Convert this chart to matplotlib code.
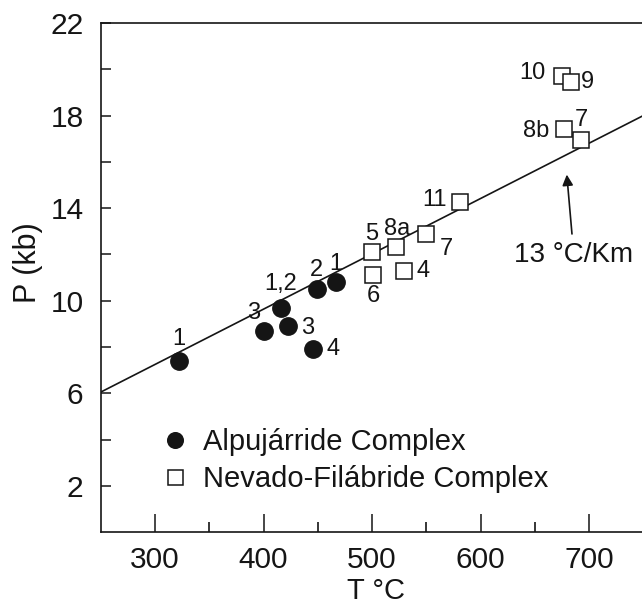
import matplotlib
matplotlib.use("Agg")
import matplotlib.pyplot as plt
from matplotlib.ticker import FixedLocator, NullFormatter

plt.rcParams["font.family"] = ["Liberation Sans", "DejaVu Sans"]
INK = "#151515"

# Alpujarride Complex (filled circles)
alp_T = [322, 400, 416, 423, 446, 449, 467]
alp_P = [7.4, 8.7, 9.7, 8.9, 7.9, 10.5, 10.8]
alp_lab = ["1", "3", "1,2", "3", "4", "2", "1"]
alp_off = [(0, 16), (-7, 13), (0, 17), (14, -1), (14, 0), (0, 14), (0, 13)]

# Nevado-Filabride Complex (open squares)
nf_T = [500, 501, 522, 529.5, 549.5, 581, 675.5, 683.5, 677, 693]
nf_P = [12.1, 11.1, 12.3, 11.3, 12.9, 14.25, 19.7, 19.45, 17.4, 16.95]
nf_lab = ["5", "6", "8a", "4", "7", "11", "10", "9", "8b", "7"]
nf_off = [(0, 13), (0, -15), (1, 13), (14, 0), (15, -11), (-18, 2),
          (-22, 2), (12, 0), (-20, -1), (0, 14)]

# 13 degC/km gradient line
grad_T = [250, 750]
grad_P = [6.05, 18.0]

fig = plt.figure(figsize=(6.42, 6.06), dpi=100)
ax = fig.add_axes([0.157, 0.122, 0.845, 0.840])

ax.plot(grad_T, grad_P, color=INK, lw=1.2, zorder=1)
ax.plot(alp_T, alp_P, "o", ms=12.5, color=INK, mec=INK, zorder=3,
        label="Alpujárride Complex")
ax.plot(nf_T, nf_P, "s", ms=12.0, mfc="white", mec=INK, mew=1.1, zorder=3,
        label="Nevado-Filábride Complex")

for t, p, s, off in zip(alp_T + nf_T, alp_P + nf_P, alp_lab + nf_lab, alp_off + nf_off):
    ax.annotate(s, (t, p), xytext=off, textcoords="offset points",
                ha="center", va="center", fontsize=17, color=INK, zorder=4)

ax.annotate("13 °C/Km", xy=(679.5, 15.45), xytext=(686, 11.66),
            ha="center", va="baseline", fontsize=20, color=INK,
            arrowprops=dict(arrowstyle="-|>", color=INK, lw=1.2,
                            mutation_scale=16, shrinkA=4, shrinkB=0))

ax.set_xlim(250, 750)
ax.set_ylim(0, 22)

ax.xaxis.set_major_locator(FixedLocator([300, 400, 500, 600, 700]))
ax.xaxis.set_minor_locator(FixedLocator([350, 450, 550, 650]))
ax.yaxis.set_major_locator(FixedLocator([2, 6, 10, 14, 18, 22]))
ax.yaxis.set_minor_locator(FixedLocator([4, 8, 12, 16, 20]))
ax.yaxis.set_minor_formatter(NullFormatter())

ax.tick_params(axis="x", which="major", direction="in", length=13, width=1.1,
               pad=10, labelsize=21.5, colors=INK)
ax.tick_params(axis="x", which="minor", direction="in", length=7, width=1.1)
ax.tick_params(axis="y", which="both", direction="in", length=7, width=1.1,
               pad=12.5, labelsize=21.5, colors=INK)

for side in ["left", "bottom", "top"]:
    ax.spines[side].set_linewidth(1.2)
    ax.spines[side].set_color(INK)
ax.spines["right"].set_visible(False)

ax.set_xlabel("T °C", fontsize=21, color=INK, va="baseline")
ax.xaxis.set_label_coords(0.508, -0.1316)
ax.set_ylabel("P (kb)", fontsize=22, color=INK)
ax.yaxis.set_label_coords(-0.106, 0.53)

leg = ax.legend(loc="center left", bbox_to_anchor=(0.115, 0.140), frameon=False,
                fontsize=21, handlelength=0.8, handletextpad=0.55, borderpad=0,
                borderaxespad=0, labelspacing=0.3, markerscale=0.9)
for txt in leg.get_texts():
    txt.set_color(INK)

fig.savefig("out.png", dpi=100)
